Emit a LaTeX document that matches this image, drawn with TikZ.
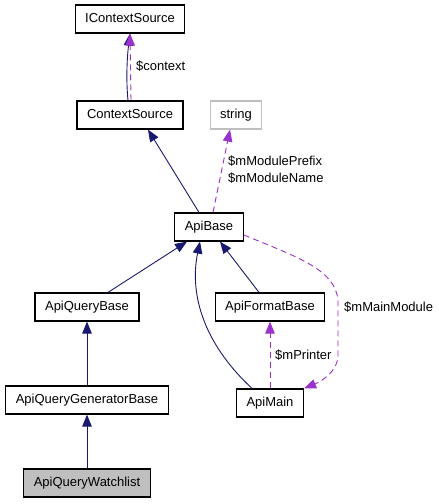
\documentclass[tikz,border=0pt]{standalone}
\usepackage{fontspec}
\setmainfont{Liberation Sans}
\usepackage{xcolor}
\usetikzlibrary{arrows.meta}
\definecolor{inhblue}{RGB}{25,25,112}
\definecolor{usepurple}{RGB}{154,50,205}
\definecolor{boxgray}{RGB}{191,191,191}

\begin{document}
\begin{tikzpicture}[x=1pt,y=-1pt,>={Triangle[length=12pt,width=9.5pt]},
    every node/.style={font=\fontsize{13}{17}\selectfont}]
  \tikzset{
    cls/.style={draw,line width=1.2pt,inner xsep=10pt,minimum height=28pt,
      text height=9.5pt,text depth=2.5pt},
    inh/.style={->,draw=inhblue,line width=0.9pt},
    usage/.style={->,draw=usepurple,line width=0.9pt,dash pattern=on 6pt off 4pt},
    lbl/.style={anchor=west,inner sep=0pt,align=left}
  }
  \useasboundingbox (0,0) rectangle (439,504);
  % classes
  \node[cls] (ictx) at (130,19) {IContextSource};
  \node[cls] (ctxsrc) at (130,115) {ContextSource};
  \node[cls,draw=boxgray] (string) at (236,115) {string};
  \node[cls] (apibase) at (209,227) {ApiBase};
  \node[cls] (aqb) at (87,307) {ApiQueryBase};
  \node[cls] (afb) at (270,307) {ApiFormatBase};
  \node[cls] (aqgb) at (87,400) {ApiQueryGeneratorBase};
  \node[cls] (apimain) at (270,403) {ApiMain};
  \node[cls,fill=boxgray] (aqw) at (87,483) {ApiQueryWatchlist};
  % inheritance
  \draw[inh] ([xshift=-2pt]ctxsrc.north) .. controls (126,80) and (127,58) .. (ictx.south);
  \draw[inh] ([xshift=-10pt]apibase.north) -- ([xshift=18pt]ctxsrc.south);
  \draw[inh] ([xshift=21pt]aqb.north) -- ([xshift=-22pt]apibase.south);
  \draw[inh] ([xshift=-11pt]afb.north) -- ([xshift=11pt]apibase.south);
  \draw[inh] ([xshift=-18pt]apimain.north) .. controls (200,340) and (190,290) .. ([xshift=-9pt]apibase.south);
  \draw[inh] (aqgb) -- (aqb);
  \draw[inh] (aqw) -- (aqgb);
  % usage
  \draw[usage] ([xshift=1pt]ctxsrc.north) -- (ictx.south);
  \draw[usage] ([xshift=4pt]apibase.north) -- ([xshift=-6pt]string.south);
  \draw[usage] (apimain) -- (afb);
  \draw[usage] ([yshift=-8pt]apibase.east) .. controls (300,258) and (335,270) .. (338,300)
    -- (338,355) .. controls (338,372) and (320,382) .. (apimain.north east);
  % labels
  \node[lbl] (lctx) at (136,66) {\$context};
  \node[lbl] (lmod) at (228,170) {\$mModulePrefix\\\$mModuleName};
  \node[lbl] (lmain) at (344,307) {\$mMainModule};
  \node[lbl] (lprint) at (275,355) {\$mPrinter};
\end{tikzpicture}
\end{document}
